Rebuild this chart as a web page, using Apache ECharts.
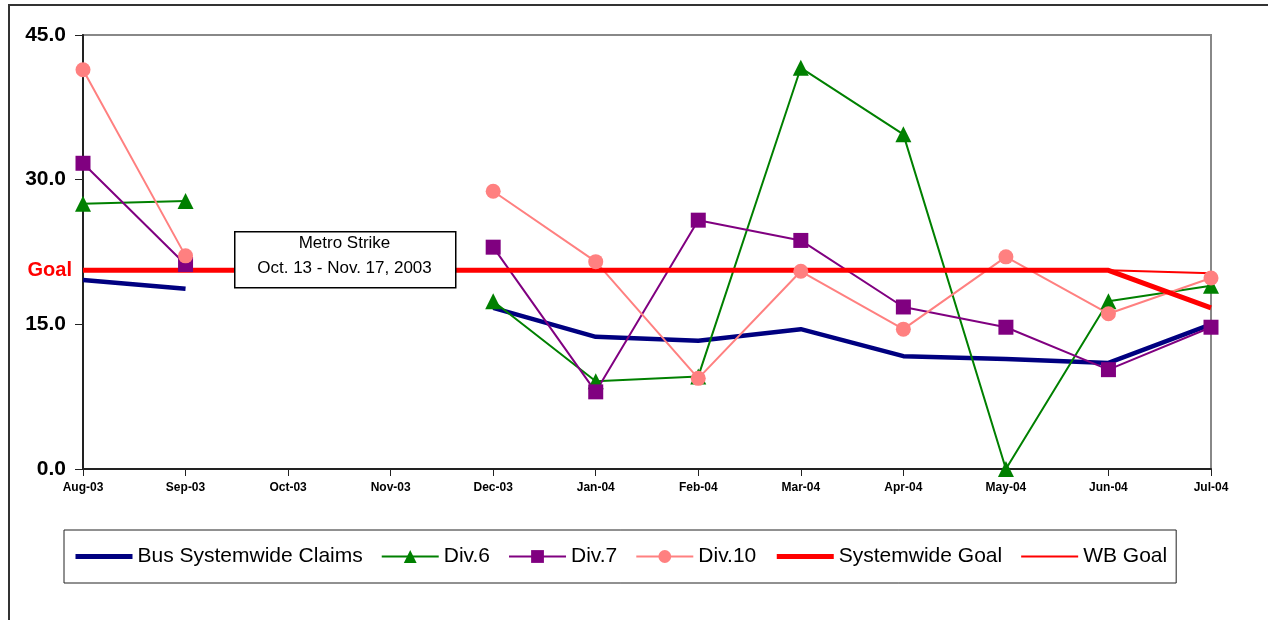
<!DOCTYPE html>
<html>
<head>
<meta charset="utf-8">
<script src="https://cdn.jsdelivr.net/npm/echarts@6/dist/echarts.min.js"></script>
<style>
html,body{margin:0;padding:0;background:#fff;}
#c{width:1268px;height:620px;}
</style>
</head>
<body>
<div id="c"></div>
<script>
const months = ['Aug-03','Sep-03','Oct-03','Nov-03','Dec-03','Jan-04','Feb-04','Mar-04','Apr-04','May-04','Jun-04','Jul-04'];
const busSystemwide = [19.6, 18.7, null, null, 16.7, 13.7, 13.3, 14.5, 11.7, 11.4, 11.0, 15.0];
const div6 = [27.5, 27.8, null, null, 17.4, 9.1, 9.6, 41.6, 34.7, 0.0, 17.4, 19.0];
const div7 = [31.7, 21.2, null, null, 23.0, 8.0, 25.8, 23.7, 16.8, 14.7, 10.3, 14.7];
const div10 = [41.4, 22.1, null, null, 28.8, 21.5, 9.4, 20.5, 14.5, 22.0, 16.1, 19.8];
const systemwideGoal = [20.6, 20.6, 20.6, 20.6, 20.6, 20.6, 20.6, 20.6, 20.6, 20.6, 20.6, 16.7];
const wbGoal = [20.6, 20.6, 20.6, 20.6, 20.6, 20.6, 20.6, 20.6, 20.6, 20.6, 20.6, 20.3];
const yTicks = [0, 15, 30, 45];

const chart = echarts.init(document.getElementById('c'));
const FONT = 'Liberation Sans, Arial, sans-serif';

chart.setOption({
  animation: false,
  backgroundColor: '#fff',
  textStyle: { fontFamily: FONT },
  grid: { left: 83, right: 57, top: 35, bottom: 151, show: true, borderColor: '#888', borderWidth: 2, backgroundColor: 'transparent' },
  xAxis: {
    type: 'category',
    data: months,
    boundaryGap: false,
    axisLine: { lineStyle: { color: '#222', width: 2 } },
    axisTick: { show: true, alignWithLabel: true, length: 7, lineStyle: { color: '#222', width: 1 } },
    axisLabel: { interval: 0, fontSize: 12, fontWeight: 'bold', color: '#000', margin: 13, fontFamily: FONT },
    splitLine: { show: false }
  },
  yAxis: {
    type: 'value',
    min: yTicks[0], max: yTicks[yTicks.length - 1], interval: yTicks[1] - yTicks[0],
    axisLine: { show: true, lineStyle: { color: '#222', width: 2 } },
    axisTick: { show: true, length: 8, lineStyle: { color: '#222', width: 1 } },
    axisLabel: { fontSize: 21, fontWeight: 'bold', color: '#000', margin: 17, formatter: v => v.toFixed(1), fontFamily: FONT },
    splitLine: { show: false }
  },
  legend: {
    left: 64, top: 530,
    orient: 'horizontal',
    padding: [16, 9],
    borderColor: '#222', borderWidth: 1,
    itemWidth: 57, itemHeight: 16, itemGap: 18,
    textStyle: { fontSize: 21, color: '#000', fontFamily: FONT },
    data: [
      { name: 'Bus Systemwide Claims', itemStyle: { opacity: 0 }, lineStyle: { width: 5 } },
      'Div.6', 'Div.7', 'Div.10',
      { name: 'Systemwide Goal', itemStyle: { opacity: 0 }, lineStyle: { width: 5 } },
      { name: 'WB Goal', itemStyle: { opacity: 0 }, lineStyle: { width: 2 } }
    ]
  },
  series: [
    { name: 'Bus Systemwide Claims', type: 'line', data: busSystemwide, symbol: 'none', lineStyle: { color: '#000080', width: 4.5 }, itemStyle: { color: '#000080' } },
    { name: 'Div.6', type: 'line', data: div6, symbol: 'triangle', symbolSize: 16, lineStyle: { color: '#008000', width: 2 }, itemStyle: { color: '#008000' } },
    { name: 'Div.7', type: 'line', data: div7, symbol: 'rect', symbolSize: 15, lineStyle: { color: '#800080', width: 2 }, itemStyle: { color: '#800080' } },
    { name: 'Div.10', type: 'line', data: div10, symbol: 'circle', symbolSize: 15, lineStyle: { color: '#FF8080', width: 2 }, itemStyle: { color: '#FF8080' } },
    { name: 'Systemwide Goal', type: 'line', data: systemwideGoal, symbol: 'none', lineStyle: { color: '#FF0000', width: 5 }, itemStyle: { color: '#FF0000' },
      markPoint: { silent: true, symbol: 'circle', symbolSize: 0, data: [ { coord: [months[0], systemwideGoal[0]], label: { show: true, position: 'left', distance: 11, formatter: 'Goal', color: '#FF0000', fontSize: 20, fontWeight: 'bold', fontFamily: FONT } } ] } },
    { name: 'WB Goal', type: 'line', data: wbGoal, symbol: 'none', lineStyle: { color: '#FF0000', width: 2 }, itemStyle: { color: '#FF0000' } }
  ],
  graphic: [
    { type: 'rect', z: -10, shape: { x: 9, y: 5, width: 1400, height: 800 }, style: { fill: 'none', stroke: '#333', lineWidth: 2 } },
    { type: 'rect', z: 100, zlevel: 1, left: 234, top: 231, shape: { x: 0, y: 0, width: 221, height: 56 }, style: { fill: '#fff', stroke: '#000', lineWidth: 1.5 } },
    { type: 'text', z: 101, zlevel: 1, x: 344.5, y: 243, style: { text: 'Metro Strike', font: '17px ' + FONT, fill: '#000', align: 'center', verticalAlign: 'middle' } },
    { type: 'text', z: 101, zlevel: 1, x: 344.5, y: 268, style: { text: 'Oct. 13 - Nov. 17, 2003', font: '17px ' + FONT, fill: '#000', align: 'center', verticalAlign: 'middle' } }
  ]
});
</script>
</body>
</html>
